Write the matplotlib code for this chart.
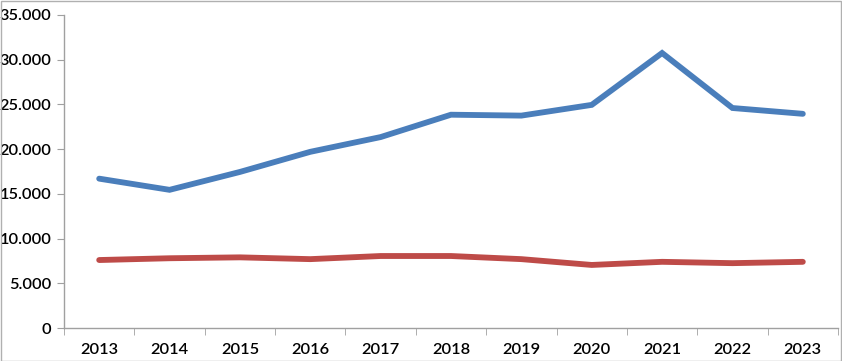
import matplotlib
matplotlib.use("Agg")
from matplotlib import pyplot as plt
from matplotlib.ticker import FuncFormatter
from matplotlib.patches import Rectangle

years = [2013, 2014, 2015, 2016, 2017, 2018, 2019, 2020, 2021, 2022, 2023]
blue_vals = [16700, 15450, 17450, 19700, 21350, 23850, 23750, 24950, 30750, 24600, 23950]
red_vals = [7600, 7800, 7900, 7700, 8050, 8050, 7700, 7050, 7400, 7250, 7400]

plt.rcParams['font.family'] = ['Lato', 'DejaVu Sans']

fig = plt.figure(figsize=(8.42, 3.61), dpi=100)
ax = fig.add_axes([64 / 842, 1 - 328 / 361, (838 - 64) / 842, (328 - 15) / 361])

x = list(range(len(years)))
ax.plot(x, blue_vals, color='#4A7EBB', linewidth=4.2, solid_capstyle='round', solid_joinstyle='miter')
ax.plot(x, red_vals, color='#BE4B48', linewidth=4.2, solid_capstyle='round', solid_joinstyle='miter')

ax.set_xlim(-0.5, len(years) - 0.5)
ax.set_ylim(0, 35000)
ax.set_yticks(range(0, 35001, 5000))
ax.yaxis.set_major_formatter(FuncFormatter(lambda v, p: f"{int(v):,}".replace(",", ".")))
ax.set_xticks(x)
ax.set_xticklabels([str(y) for y in years])
ax.set_xticks([i + 0.5 for i in range(-1, len(years))], minor=True)
ax.tick_params(axis='x', which='major', length=0, pad=11, labelsize=11.8)
ax.tick_params(axis='x', which='minor', length=5, color='#A0A0A0', direction='out')
ax.tick_params(axis='y', length=5, color='#A0A0A0', labelsize=11.8, pad=4)
for lab in ax.get_xticklabels() + ax.get_yticklabels():
    lab.set_fontweight('semibold')

for s in ['top', 'right']:
    ax.spines[s].set_visible(False)
for s in ['left', 'bottom']:
    ax.spines[s].set_color('#A0A0A0')
    ax.spines[s].set_linewidth(1)

fig.patches.append(Rectangle((0.001, 0.001), 0.998, 0.996, transform=fig.transFigure,
                             fill=False, edgecolor='#B0B0B0', linewidth=1))

fig.savefig("out.png", dpi=100)
